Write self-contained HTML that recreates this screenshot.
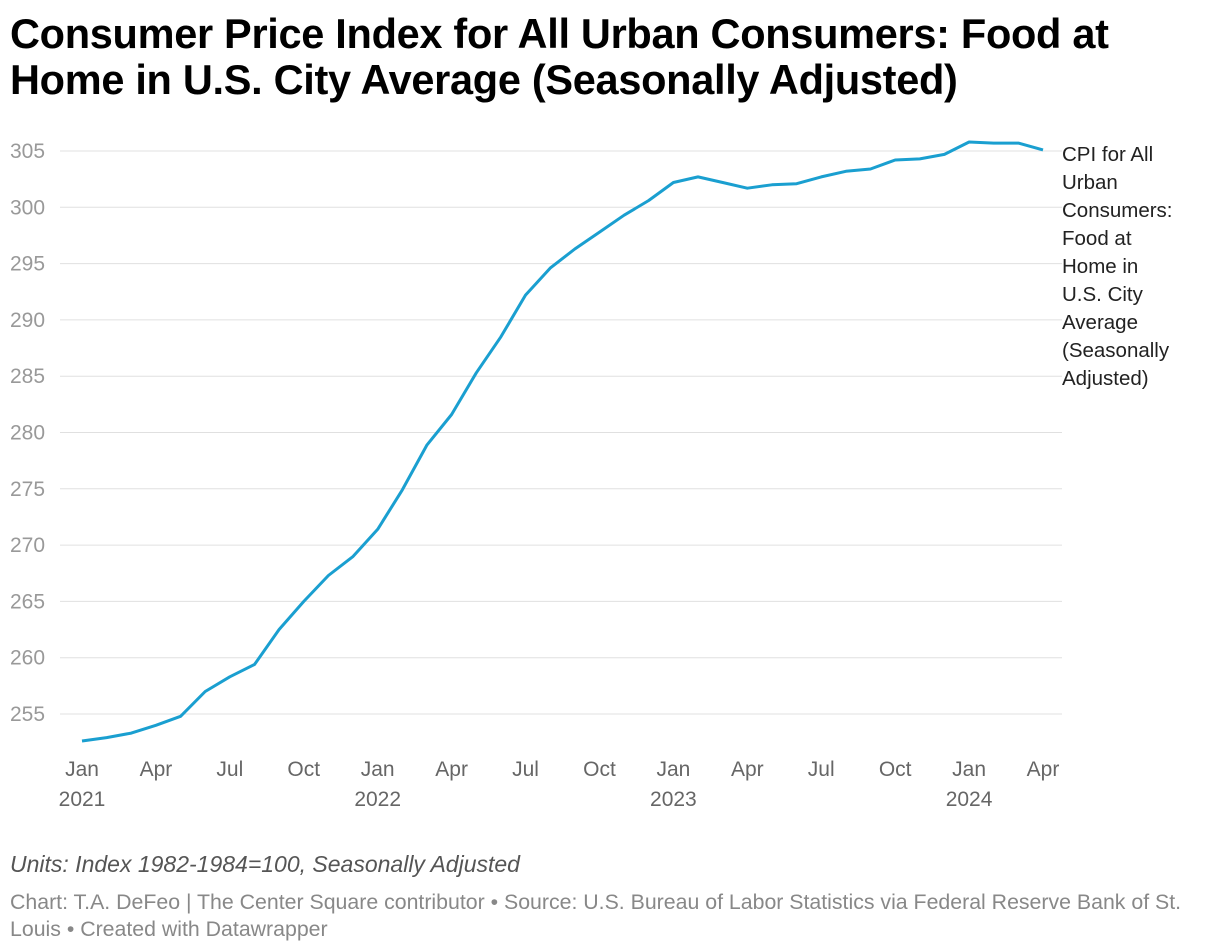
<!DOCTYPE html>
<html><head><meta charset="utf-8">
<style>
body{margin:0;background:#fff;font-family:"Liberation Sans",sans-serif;}
#wrap{position:relative;width:1220px;height:952px;overflow:hidden;}
h1{position:absolute;left:10px;top:11px;width:1170px;margin:0;font-size:41.5px;line-height:46px;font-weight:bold;color:#000;letter-spacing:-0.3px;}
.note{position:absolute;left:10px;top:851px;font-size:23px;font-style:italic;color:#555;}
.src{position:absolute;left:10px;top:889px;width:1195px;font-size:21.3px;line-height:27px;color:#888;}
svg{position:absolute;left:0;top:0;}
</style></head><body>
<div id="wrap">
<h1>Consumer Price Index for All Urban Consumers: Food at Home in U.S. City Average (Seasonally Adjusted)</h1>
<svg id="chart" width="1220" height="952"></svg>
<div class="note">Units: Index 1982-1984=100, Seasonally Adjusted</div>
<div class="src">Chart: T.A. DeFeo | The Center Square contributor • Source: U.S. Bureau of Labor Statistics via Federal Reserve Bank of St. Louis • Created with Datawrapper</div>
</div>
<script>
const months = ["Jan 2021","Feb 2021","Mar 2021","Apr 2021","May 2021","Jun 2021","Jul 2021","Aug 2021","Sep 2021","Oct 2021","Nov 2021","Dec 2021","Jan 2022","Feb 2022","Mar 2022","Apr 2022","May 2022","Jun 2022","Jul 2022","Aug 2022","Sep 2022","Oct 2022","Nov 2022","Dec 2022","Jan 2023","Feb 2023","Mar 2023","Apr 2023","May 2023","Jun 2023","Jul 2023","Aug 2023","Sep 2023","Oct 2023","Nov 2023","Dec 2023","Jan 2024","Feb 2024","Mar 2024","Apr 2024"];
const cpi = [252.6,252.9,253.3,254.0,254.8,257.0,258.3,259.4,262.5,265.0,267.3,269.0,271.4,274.9,278.9,281.6,285.3,288.5,292.2,294.6,296.3,297.8,299.3,300.6,302.2,302.7,302.2,301.7,302.0,302.1,302.7,303.2,303.4,304.2,304.3,304.7,305.8,305.7,305.7,305.1];
const yTicks = [255,260,265,270,275,280,285,290,295,300,305];
const xTickIdx = [0,3,6,9,12,15,18,21,24,27,30,33,36,39];
const xTickLabels = ["Jan","Apr","Jul","Oct","Jan","Apr","Jul","Oct","Jan","Apr","Jul","Oct","Jan","Apr"];
const yearLabels = {0:"2021",12:"2022",24:"2023",36:"2024"};
const seriesLabel = ["CPI for All","Urban","Consumers:","Food at","Home in","U.S. City","Average","(Seasonally","Adjusted)"];

const svg = document.getElementById('chart');
const NS = "http://www.w3.org/2000/svg";
const x = i => 82 + i * (1043-82)/39;
const y = v => 151 + (305 - v) * (714-151)/50;
function mk(tag, attrs){const e=document.createElementNS(NS,tag);for(const k in attrs)e.setAttribute(k,attrs[k]);svg.appendChild(e);return e;}

yTicks.forEach(t=>{
  const g = mk('line',{x1:60,x2:1062,y1:y(t),y2:y(t),stroke:'#e0e0e0','stroke-width':1});
  
  
  const tx = mk('text',{x:10,y:y(t)+7,'font-size':21,fill:'#999','font-family':'Liberation Sans, sans-serif'});
  tx.textContent = t;
  
  
});
xTickIdx.forEach((idx,k)=>{
  const tx = mk('text',{x:x(idx),y:776,'font-size':21,fill:'#666','text-anchor':'middle','font-family':'Liberation Sans, sans-serif'});
  tx.textContent = xTickLabels[k];
  
  
  if(yearLabels[idx]){
    const yr = mk('text',{x:x(idx),y:806,'font-size':21,fill:'#666','text-anchor':'middle','font-family':'Liberation Sans, sans-serif'});
    yr.textContent = yearLabels[idx];
    
    
  }
});
const d = cpi.map((v,i)=>(i?'L':'M')+x(i).toFixed(1)+','+y(v).toFixed(1)).join(' ');
const line = mk('path',{d:d,fill:'none',stroke:'#1a9fd0','stroke-width':3,'stroke-linejoin':'round'});


seriesLabel.forEach((s,i)=>{
  const tx = mk('text',{x:1062,y:161+i*28,'font-size':20.5,fill:'#222','font-family':'Liberation Sans, sans-serif'});
  tx.textContent = s;
  
  
});
</script>
</body></html>
